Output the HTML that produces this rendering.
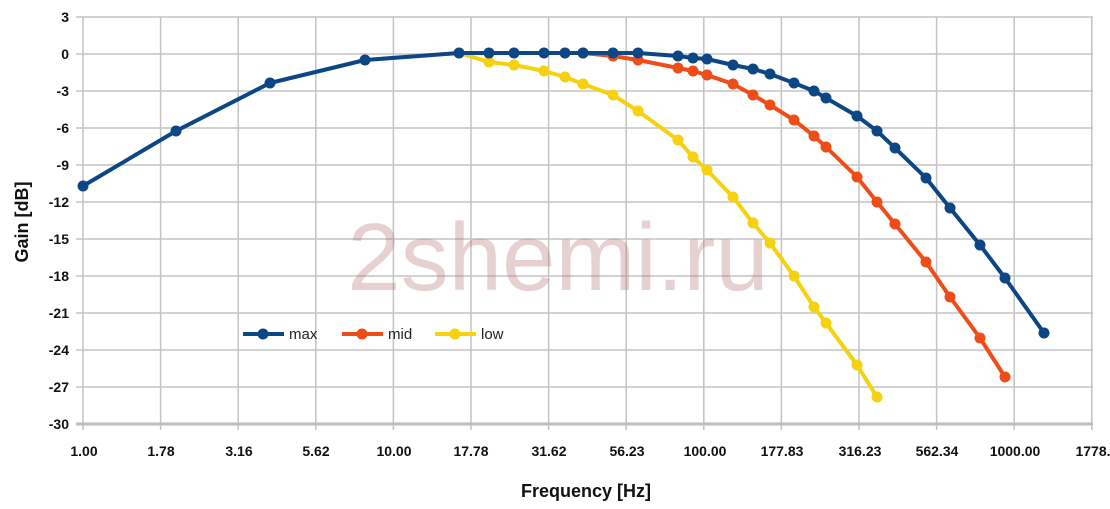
<!DOCTYPE html><html><head><style>body{margin:0;background:#fff}svg{display:block}</style></head><body>
<svg width="1110" height="509" xmlns="http://www.w3.org/2000/svg" font-family="Liberation Sans, sans-serif">
<defs>
<marker id="mb" markerUnits="userSpaceOnUse" markerWidth="12" markerHeight="12" refX="6" refY="6"><circle cx="6" cy="6" r="5.5" fill="#0d4684"/></marker>
<marker id="mr" markerUnits="userSpaceOnUse" markerWidth="12" markerHeight="12" refX="6" refY="6"><circle cx="6" cy="6" r="5.5" fill="#ee4d18"/></marker>
<marker id="my" markerUnits="userSpaceOnUse" markerWidth="12" markerHeight="12" refX="6" refY="6"><circle cx="6" cy="6" r="5.5" fill="#f5d10f"/></marker>
</defs>
<g stroke="#c4c4c4" stroke-width="1.5">
<line x1="83" y1="17" x2="83" y2="430"/><line x1="160.6" y1="17" x2="160.6" y2="430"/><line x1="238.2" y1="17" x2="238.2" y2="430"/><line x1="315.8" y1="17" x2="315.8" y2="430"/><line x1="393.4" y1="17" x2="393.4" y2="430"/><line x1="471" y1="17" x2="471" y2="430"/><line x1="548.6" y1="17" x2="548.6" y2="430"/><line x1="626.2" y1="17" x2="626.2" y2="430"/><line x1="703.8" y1="17" x2="703.8" y2="430"/><line x1="781.4" y1="17" x2="781.4" y2="430"/><line x1="859" y1="17" x2="859" y2="430"/><line x1="936.6" y1="17" x2="936.6" y2="430"/><line x1="1014.2" y1="17" x2="1014.2" y2="430"/><line x1="1091.8" y1="17" x2="1091.8" y2="430"/>
<line x1="76" y1="17" x2="1093" y2="17"/><line x1="76" y1="54" x2="1093" y2="54"/><line x1="76" y1="91" x2="1093" y2="91"/><line x1="76" y1="128" x2="1093" y2="128"/><line x1="76" y1="165" x2="1093" y2="165"/><line x1="76" y1="202" x2="1093" y2="202"/><line x1="76" y1="239" x2="1093" y2="239"/><line x1="76" y1="276" x2="1093" y2="276"/><line x1="76" y1="313" x2="1093" y2="313"/><line x1="76" y1="350" x2="1093" y2="350"/><line x1="76" y1="387" x2="1093" y2="387"/>
</g>
<line x1="76" y1="424" x2="1093" y2="424" stroke="#bdbdbd" stroke-width="3"/>
<g font-size="14" font-weight="bold" fill="#111" text-anchor="end">
<text x="69" y="22">3</text><text x="69" y="59">0</text><text x="69" y="96">-3</text><text x="69" y="133">-6</text><text x="69" y="170">-9</text><text x="69" y="207">-12</text><text x="69" y="244">-15</text><text x="69" y="281">-18</text><text x="69" y="318">-21</text><text x="69" y="355">-24</text><text x="69" y="392">-27</text><text x="69" y="429">-30</text>
</g>
<g font-size="14" font-weight="bold" fill="#111" text-anchor="middle">
<text x="84" y="456">1.00</text><text x="161" y="456">1.78</text><text x="239" y="456">3.16</text><text x="316" y="456">5.62</text><text x="394" y="456">10.00</text><text x="471" y="456">17.78</text><text x="549" y="456">31.62</text><text x="627" y="456">56.23</text><text x="705" y="456">100.00</text><text x="782" y="456">177.83</text><text x="860" y="456">316.23</text><text x="937" y="456">562.34</text><text x="1015" y="456">1000.00</text><text x="1093" y="456">1778.</text>
</g>
<text x="586" y="497" font-size="18" font-weight="bold" text-anchor="middle" fill="#111">Frequency [Hz]</text>
<text transform="translate(28,222) rotate(-90)" font-size="18" font-weight="bold" text-anchor="middle" fill="#111">Gain [dB]</text>
<text x="558" y="290" font-size="96" text-anchor="middle" fill="rgba(185,120,120,0.35)">2shemi.ru</text>
<g fill="none" stroke-width="4" stroke-linejoin="round">
<polyline stroke="#f5d10f" marker-start="url(#my)" marker-mid="url(#my)" marker-end="url(#my)" points="459,53 489,62 514,65 544,71 565,77 583,84 613,95 638,111 678,140 693,157 707,170 733,197 753,223 770,243 794,276 814,307 826,323 857,365 877,397"/>
<polyline stroke="#ee4d18" marker-start="url(#mr)" marker-mid="url(#mr)" marker-end="url(#mr)" points="583,53 613,56 638,60 678,68 693,71 707,75 733,84 753,95 770,105 794,120 814,136 826,147 857,177 877,202 895,224 926,262 950,297 980,338 1005,377"/>
<polyline stroke="#0d4684" marker-start="url(#mb)" marker-mid="url(#mb)" marker-end="url(#mb)" points="83,186 176,131 270,83 365,60 459,53 489,53 514,53 544,53 565,53 583,53 613,53 638,53 678,56 693,58 707,59 733,65 753,69 770,74 794,83 814,91 826,98 857,116 877,131 895,148 926,178 950,208 980,245 1005,278 1044,333"/>
<line x1="243" y1="334" x2="284" y2="334" stroke="#0d4684"/>
<line x1="342" y1="334" x2="383" y2="334" stroke="#ee4d18"/>
<line x1="435" y1="334" x2="476" y2="334" stroke="#f5d10f"/>
</g>
<circle cx="263" cy="334" r="5.5" fill="#0d4684"/><circle cx="362" cy="334" r="5.5" fill="#ee4d18"/><circle cx="455" cy="334" r="5.5" fill="#f5d10f"/>
<g font-size="15" fill="#222"><text x="289" y="339">max</text><text x="388" y="339">mid</text><text x="481" y="339">low</text></g>
</svg>
</body></html>
